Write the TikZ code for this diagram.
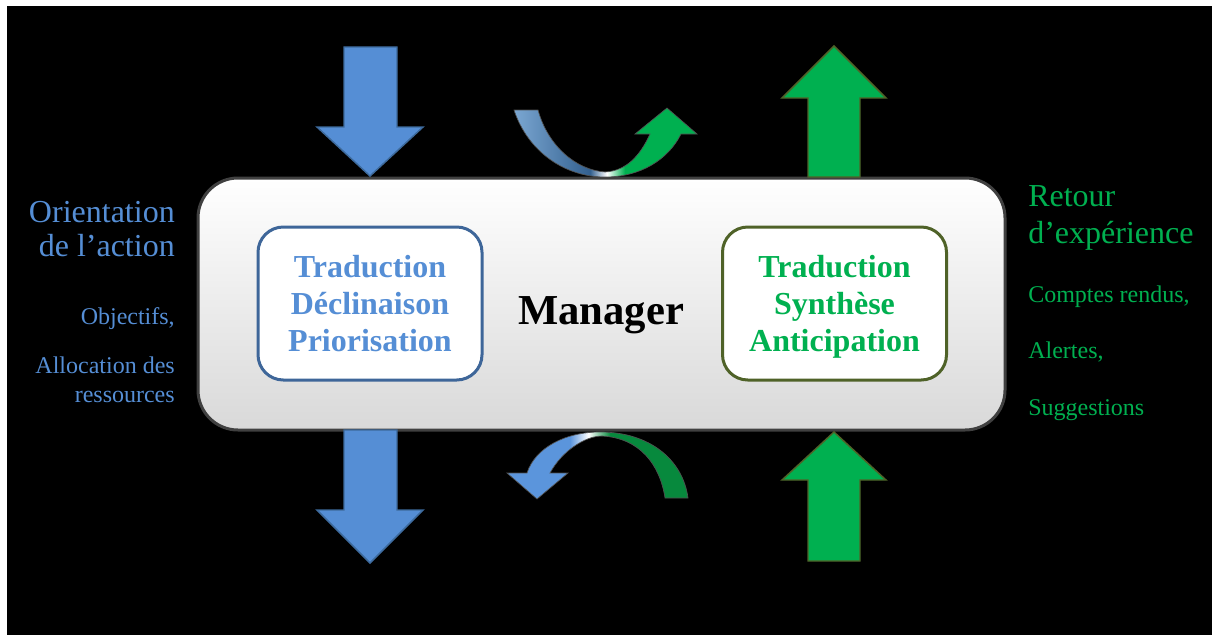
\documentclass[tikz,border=0pt]{standalone}
\usepackage{fontspec}
\setmainfont{Liberation Serif}
\definecolor{skyblue}{HTML}{558ED5}
\definecolor{skyedge}{HTML}{3D6A9C}
\definecolor{leafgreen}{HTML}{00B050}
\definecolor{oliveedge}{HTML}{4F6228}
\definecolor{frame}{HTML}{404040}
\definecolor{boxblue}{HTML}{3E6699}
\definecolor{bendblueL}{HTML}{7BA7D2}
\definecolor{bendblueD}{HTML}{33608F}
\definecolor{bendblueH}{HTML}{5B95DC}
\definecolor{deepgreen}{HTML}{07893D}
\definecolor{bendedge}{HTML}{505050}
\pgfdeclarehorizontalshading{topbend}{100bp}{color(0bp)=(bendblueL); color(25bp)=(bendblueL); color(45.8bp)=(bendblueD); color(50.4bp)=(white); color(55.3bp)=(leafgreen); color(100bp)=(leafgreen)}
\pgfdeclarehorizontalshading{lowbend}{100bp}{color(0bp)=(bendblueH); color(25bp)=(bendblueH); color(42.4bp)=(bendblueH); color(47.5bp)=(white); color(53.5bp)=(deepgreen); color(100bp)=(deepgreen)}
\begin{document}
\begin{tikzpicture}[x=0.75pt,y=-0.75pt,
  bluearrow/.style={fill=skyblue,draw=skyedge,line width=1.1pt,line join=miter},
  greenarrow/.style={fill=leafgreen,draw=oliveedge,line width=1.1pt,line join=miter},
  mainbox/.style={draw=frame,line width=2.25pt,rounded corners=30pt,
    top color=white,bottom color=black!15,
    minimum width=605.25pt,minimum height=189pt,inner sep=0pt},
  taskbox/.style={fill=white,line width=2.25pt,rounded corners=19pt,
    minimum width=168pt,minimum height=114.75pt,inner sep=0pt,
    align=center,font=\bfseries\fontsize{24}{27.75}\selectfont,text depth=0pt},
  bigleft/.style={anchor=base east,text=skyblue,font=\fontsize{24}{28}\selectfont,inner sep=0pt},
  smallleft/.style={anchor=base east,text=skyblue,font=\fontsize{18}{21}\selectfont,inner sep=0pt},
  bigright/.style={anchor=base west,text=leafgreen,font=\fontsize{24}{28}\selectfont,inner sep=0pt},
  smallright/.style={anchor=base west,text=leafgreen,font=\fontsize{18}{21}\selectfont,inner sep=0pt},
  bendedarrow/.style={draw=bendedge,line width=0.5pt}]

% page and backdrop
\fill[white] (0,0) rectangle (1212,635);
\fill[black] (7,6) rectangle (1212,635);
\useasboundingbox (0,0) rectangle (1212,635);

% central manager block with its two task boxes
\node[mainbox] (mgr) at (601.5,304) {};
\node[taskbox,draw=boxblue,text=skyblue] (down) at (370,303.5)
  {Traduction\\Déclinaison\\Priorisation};
\node[taskbox,draw=oliveedge,text=leafgreen] (up) at (834.5,303.5)
  {Traduction\\Synthèse\\Anticipation};
\node[anchor=base,font=\bfseries\fontsize{32}{36}\selectfont,inner sep=0pt] (mname) at (601,324) {Manager};

% straight block arrows
\draw[bluearrow] (344,47) -- (397,47) -- (397,127) -- (423,127) -- (370,176) -- (317,127) -- (344,127) -- cycle;
\draw[bluearrow] (344,430) -- (397,430) -- (397,510) -- (423,510) -- (370,563) -- (317,510) -- (344,510) -- cycle;
\draw[greenarrow] (808,177) -- (860,177) -- (860,98) -- (886,98) -- (834,46) -- (782,98) -- (808,98) -- cycle;
\draw[greenarrow] (808,561) -- (860,561) -- (860,480) -- (886,480) -- (834,432) -- (782,480) -- (808,480) -- cycle;

% curved arrow above the block
\shadedraw[shading=topbend,bendedarrow] (514,110)
  .. controls (528,152) and (565,177) .. (605,177)
  .. controls (640,177) and (668,160) .. (681,134)
  -- (697,134) -- (667,108) -- (635,134) -- (650,134)
  .. controls (640,156) and (626,171) .. (605,172)
  .. controls (576,170) and (548,146) .. (538,110) -- cycle;

% curved arrow below the block
\shadedraw[shading=lowbend,bendedarrow] (688,498)
  .. controls (683,460) and (650,432) .. (600,432)
  .. controls (565,432) and (535,448) .. (527,473)
  -- (507,473) -- (537,499) -- (568,473) -- (550,473)
  .. controls (562,451) and (585,436) .. (602,436)
  .. controls (640,438) and (660,465) .. (665,498) -- cycle;

% left labels
\node[bigleft] (orient) at (175,222) {Orientation};
\node[bigleft] (action) at (175,256) {de l’action};
\node[smallleft] (obj) at (175,324) {Objectifs,};
\node[smallleft] (alloc) at (175,373) {Allocation des};
\node[smallleft] (res) at (175,402) {ressources};

% right labels
\node[bigright] (retour) at (1028,206) {Retour};
\node[bigright] (exp) at (1028,243) {d’expérience};
\node[smallright] (cr) at (1028,302) {Comptes rendus,};
\node[smallright] (alert) at (1028,358) {Alertes,};
\node[smallright] (sugg) at (1028,415) {Suggestions};
\end{tikzpicture}
\end{document}
